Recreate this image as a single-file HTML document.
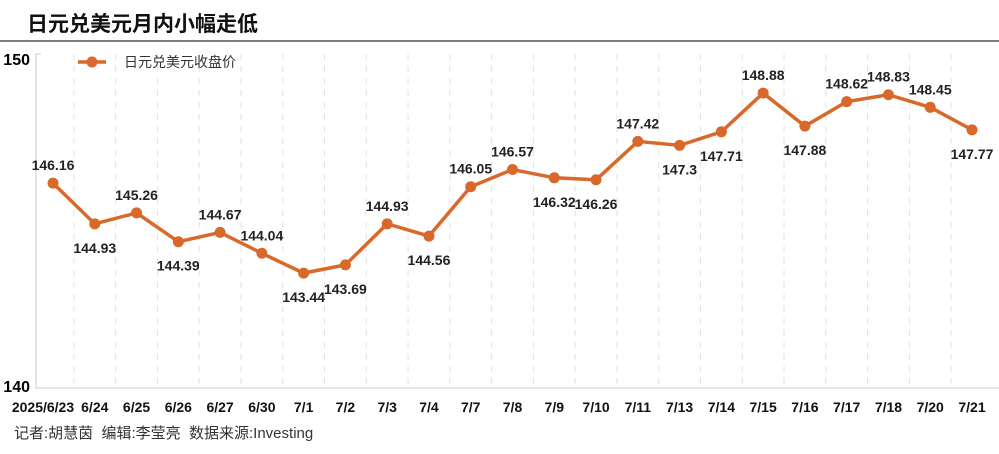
<!DOCTYPE html>
<html><head><meta charset="utf-8"><style>
body{margin:0;background:#fff;width:999px;height:454px;overflow:hidden;font-family:"Liberation Sans","Noto Sans CJK SC",sans-serif;}
</style></head><body>
<svg width="999" height="454" style="position:absolute;left:0;top:0">
<text x="27" y="31" font-size="21" font-weight="bold" fill="#111">日元兑美元月内小幅走低</text>
<line x1="0" y1="41" x2="999" y2="41" stroke="#555" stroke-width="1.5"/>
<g id="grid"></g>
<line x1="36" y1="54" x2="36" y2="388" stroke="#ccc"/>
<line x1="36" y1="388" x2="999" y2="388" stroke="#ccc"/>
<line x1="36" y1="54" x2="41" y2="54" stroke="#ccc"/>
<text x="30" y="65" font-size="16" font-weight="bold" text-anchor="end">150</text>
<text x="30" y="392" font-size="16" font-weight="bold" text-anchor="end">140</text>
<g>
<line x1="78" y1="62" x2="106" y2="62" stroke="#d9692a" stroke-width="3.5"/>
<circle cx="92" cy="62" r="5.5" fill="#d9692a"/>
<text x="124" y="67" font-size="14" fill="#333">日元兑美元收盘价</text>
</g>
<g id="series"></g>
<g id="labels"></g>
<text x="14" y="438" font-size="15" fill="#333">记者:胡慧茵&#160;&#160;编辑:李莹亮&#160;&#160;数据来源:Investing</text>
</svg>
<script>
const xLabels=["2025/6/23","6/24","6/25","6/26","6/27","6/30","7/1","7/2","7/3","7/4","7/7","7/8","7/9","7/10","7/11","7/13","7/14","7/15","7/16","7/17","7/18","7/20","7/21"];
const values=[146.16,144.93,145.26,144.39,144.67,144.04,143.44,143.69,144.93,144.56,146.05,146.57,146.32,146.26,147.42,147.3,147.71,148.88,147.88,148.62,148.83,148.45,147.77];
const labelAbove=[1,0,1,0,1,1,0,0,1,0,1,1,0,0,1,0,0,1,0,1,1,1,0];
const NS="http://www.w3.org/2000/svg";
const n=xLabels.length, step=(972-53)/(n-1);
const xs=i=>53+i*step;
const ys=v=>56+(150-v)*33.1;
const grid=document.getElementById('grid'),ser=document.getElementById('series'),lab=document.getElementById('labels');
function mk(tag,attrs,parent){const e=document.createElementNS(NS,tag);for(const k in attrs)e.setAttribute(k,attrs[k]);parent.appendChild(e);return e;}
for(let i=0;i<n;i++){
  const gx=xs(i)+step/2;
  if(i<n-1){const g=mk('line',{x1:gx,y1:54,x2:gx,y2:388,stroke:'#e2e2e2','stroke-dasharray':'6,6'},grid);
  
  }
  const t=mk('text',{x:xs(i)+(i==0?-10:0),y:412,'font-size':14,'font-weight':'bold','text-anchor':'middle',fill:'#111'},lab);
  t.textContent=xLabels[i];
  
  
}
const pl=mk('polyline',{points:values.map((v,i)=>xs(i)+','+ys(v)).join(' '),fill:'none',stroke:'#d9692a','stroke-width':3.5},ser);


values.forEach((v,i)=>{
  const c=mk('circle',{cx:xs(i),cy:ys(v),r:5.5,fill:'#d9692a'},ser);
  
  
  const t=mk('text',{x:xs(i),y:labelAbove[i]?ys(v)-13:ys(v)+29,'font-size':14,'font-weight':'bold','text-anchor':'middle',fill:'#222'},lab);
  t.textContent=String(v);
  
  
});
</script>
</body></html>
